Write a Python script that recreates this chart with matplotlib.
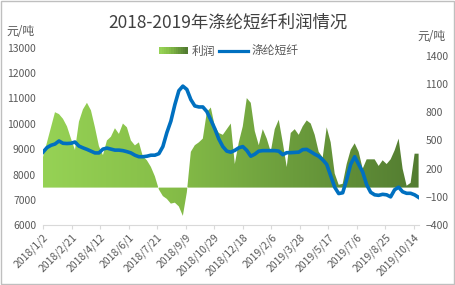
import pandas as pd
import numpy as np
from matplotlib import pyplot as plt
import matplotlib.dates as mdates
from matplotlib.colors import LinearSegmentedColormap
from matplotlib.patches import Rectangle
from matplotlib.lines import Line2D
from matplotlib.legend_handler import HandlerBase

plt.rcParams["font.family"] = ["Noto Sans CJK SC", "DejaVu Sans"]

title = "2018-2019年涤纶短纤利润情况"
unit = "元/吨"
profit_name = "利润"
price_name = "涤纶短纤"

# weekly readings, first week 2018/1/2
profit = [325, 480, 640, 800, 780, 730, 650, 520, 400, 700,
          830, 900, 820, 640, 440, 345, 500, 540, 630, 570,
          680, 640, 500, 448, 480, 330, 290, 220, 120, -20,
          -90, -120, -170, -160, -200, -300, -50, 380, 450, 480,
          520, 800, 850, 650, 580, 560, 620, 680, 250, 480,
          650, 950, 900, 600, 450, 620, 520, 380, 620, 720,
          480, 218, 580, 620, 560, 650, 713, 680, 560, 380,
          320, 640, 480, 150, 30, 40, 250, 400, 470, 380,
          200, 300, 300, 300, 230, 290, 250, 300, 395, 520,
          200, 20, 50, 360, 360]

price = [8880, 9060, 9150, 9200, 9320, 9230, 9220, 9230, 9280, 9120,
         9050, 8990, 8920, 8850, 8850, 9000, 9040, 9000, 8960, 8960,
         8940, 8900, 8850, 8760, 8700, 8700, 8720, 8760, 8760, 8820,
         9100, 9650, 10100, 10750, 11300, 11480, 11350, 10950, 10700, 10660,
         10660, 10480, 10150, 9800, 9400, 9100, 8920, 8880, 8950, 9050,
         9100, 8950, 8720, 8800, 8920, 8940, 8940, 8940, 8940, 8920,
         8780, 8860, 8860, 8870, 8880, 8980, 8990, 8900, 8800, 8720,
         8580, 8400, 7950, 7500, 7250, 7280, 7800, 8400, 8700, 8400,
         8100, 7600, 7300, 7200, 7180, 7220, 7200, 7120, 7400, 7500,
         7320, 7260, 7260, 7200, 7100]

dates = pd.date_range("2018-01-02", periods=len(profit), freq="7D")

tick_labels = ["2018/1/2", "2018/2/21", "2018/4/12", "2018/6/1", "2018/7/21",
               "2018/9/9", "2018/10/29", "2018/12/18", "2019/2/6", "2019/3/28",
               "2019/5/17", "2019/7/6", "2019/8/25", "2019/10/14"]
left_ticks = [6000, 7000, 8000, 9000, 10000, 11000, 12000, 13000]
right_ticks = [-400, -100, 200, 500, 800, 1100, 1400]

text_col = "#595959"
green_map = LinearSegmentedColormap.from_list("g", ["#96D255", "#86BE48", "#6B9C3C", "#537C31"])


class GradHandler(HandlerBase):
    def create_artists(self, legend, orig_handle, xdescent, ydescent, width, height, fontsize, trans):
        n = 12
        out = []
        for i in range(n):
            r = Rectangle((-xdescent + i * width / n, -ydescent), width / n + 0.3, height,
                          facecolor=green_map(i / (n - 1)), lw=0, transform=trans)
            out.append(r)
        return out


fig = plt.figure(figsize=(4.55, 2.85), dpi=100)
ax = fig.add_axes([0.0945, 0.2095, 0.8255, 0.6246])
ax2 = ax.twinx()

xnum = mdates.date2num(dates)
x0, x1 = xnum[0], xnum[-1]

# profit area with horizontal gradient
poly = ax2.fill_between(xnum, 0, profit, facecolor="none", lw=0)
grad = np.linspace(0, 1, 256).reshape(1, -1)
im = ax2.imshow(grad, cmap=green_map, aspect="auto", extent=[x0, x1, -400, 1487],
                origin="lower", interpolation="bilinear")
im.set_clip_path(poly.get_paths()[0], transform=ax2.transData)

ax.plot(xnum, price, color="#0070C0", lw=2.6, solid_joinstyle="round")
ax.set_zorder(ax2.get_zorder() + 1)
ax.patch.set_visible(False)

ax.set_xlim(x0, x1)
ax.set_ylim(6000, 13010)
ax2.set_ylim(-400, 1489)
ax.set_yticks(left_ticks)
ax.set_yticklabels([str(v) for v in left_ticks])
ax2.set_yticks(right_ticks)

tick_pos = [mdates.date2num(pd.Timestamp("2018-01-02") + pd.Timedelta(days=50 * i)) for i in range(len(tick_labels))]
ax.set_xticks(tick_pos)
ax.set_xticklabels(tick_labels, rotation=45, ha="right", va="top", rotation_mode="anchor")

for a in (ax, ax2):
    for s in a.spines.values():
        s.set_visible(False)
ax.spines["bottom"].set_visible(True)
ax.spines["bottom"].set_color("#D9D9D9")
ax.tick_params(axis="x", colors="#D9D9D9", labelcolor=text_col, labelsize=7.5, length=3, pad=2)
ax.tick_params(axis="y", length=0, labelcolor=text_col, labelsize=7.5, pad=5)
ax2.tick_params(axis="y", length=0, labelcolor=text_col, labelsize=7.5, pad=5)

fig.text(0.502, 0.92, title, ha="center", va="center", fontsize=12.5, color="#404040")
fig.text(0.015, 0.89, unit, ha="left", va="center", fontsize=8.5, color=text_col)
fig.text(0.918, 0.872, unit, ha="left", va="center", fontsize=8.5, color=text_col)

handles = [Rectangle((0, 0), 1, 1), Line2D([0], [0], color="#0070C0", lw=2.3)]
leg = fig.legend(handles, [profit_name, price_name], loc="center", bbox_to_anchor=(0.503, 0.82),
                 ncol=2, frameon=False, fontsize=8.5, handlelength=2.4, handleheight=0.6,
                 handletextpad=0.3, columnspacing=0.4, labelcolor=text_col,
                 handler_map={Rectangle: GradHandler()})

fig.patches.append(Rectangle((0.002, 0.004), 0.995, 0.992, transform=fig.transFigure,
                             fill=False, edgecolor="#BFBFBF", lw=1))

fig.savefig("out.png", dpi=100)
